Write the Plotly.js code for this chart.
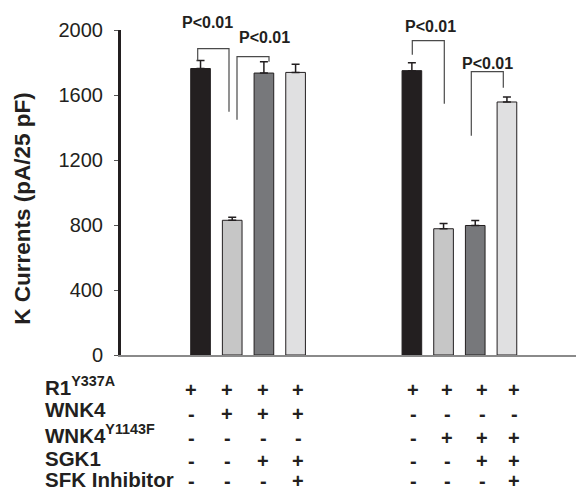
<!DOCTYPE html>
<html>
<head>
<meta charset="utf-8">
<script src="https://cdn.plot.ly/plotly-3.0.1.min.js"></script>
<style>html,body{margin:0;padding:0;background:#fff;}#chart{width:576px;height:492px;}</style>
</head>
<body>
<div id="chart"></div>
<script>
// ---- data ----
var groups = ["R1Y337A + WNK4", "R1Y337A + WNK4Y1143F"];
var barColors = ["#231f20", "#c6c6c6", "#77787b", "#e0e0e1"];
var group1Values = [1763, 829, 1735, 1739];
var group1Errors = [50, 18, 70, 50];
var group2Values = [1750, 777, 797, 1557];
var group2Errors = [49, 33, 31, 31];
var yTicks = [0, 400, 800, 1200, 1600, 2000];
var rowLabels = ["R1<sup>Y337A</sup>", "WNK4", "WNK4<sup>Y1143F</sup>", "SGK1", "SFK Inhibitor"];
var group1Marks = [["+","+","+","+"],["-","+","+","+"],["-","-","-","-"],["-","-","+","+"],["-","-","-","+"]];
var group2Marks = [["+","+","+","+"],["-","-","-","-"],["-","+","+","+"],["-","-","+","+"],["-","-","-","+"]];
var pLabel = "P<0.01";

// ---- layout constants ----
var W = 576, H = 492;
var L = 121, T = 30.3, B = 355.3;
var xMin = -1.51, xMax = 12.85;
var groupOffset = [0, 6.67];
var pxPerUnit = (W - L) / (xMax - xMin);
function xPx(px){ return (px - L) / pxPerUnit + xMin; }
function yPx(py){ return (B - py) / (B - T) * 2000; }
function pyPaper(py){ return (B - py) / (B - T); }
function pxPaper(px){ return (px - L) / (W - L); }

var font = "Arial, 'Liberation Sans', Helvetica, sans-serif";
var ink = "#231f20";

var traces = [];
[group1Values, group2Values].forEach(function(vals, g){
  var errs = g === 0 ? group1Errors : group2Errors;
  for (var i = 0; i < vals.length; i++) {
    traces.push({
      type: "bar",
      x: [1 + groupOffset[g] + i],
      y: [vals[i]],
      width: 0.62,
      marker: {color: barColors[i], line: {color: ink, width: 1}},
      error_y: {type: "data", symmetric: false, array: [errs[i]], arrayminus: [0],
                color: ink, thickness: 1.5, width: 4},
      showlegend: false,
      hoverinfo: "y"
    });
  }
});

// brackets: [leftX px, rightX px, top py, left-bottom py, right-bottom py]
var brackets = [
  [197.7, 229, 49, 61, 112],
  [237, 269, 57, 120, 62],
  [412.3, 444.3, 41, 55, 104],
  [471.3, 503.3, 72, 136, 88]
];
var shapes = brackets.map(function(b){
  var xl = xPx(b[0]), xr = xPx(b[1]);
  return {type: "path", xref: "x", yref: "y",
    path: "M" + xl + "," + yPx(b[3]) + " L" + xl + "," + yPx(b[2]) +
          " L" + xr + "," + yPx(b[2]) + " L" + xr + "," + yPx(b[4]),
    line: {color: "#4a4a4a", width: 1.2}};
});

var annotations = [];
// P labels [center px, center py]
[[207, 23], [264, 37.5], [430, 26.5], [487, 63.5]].forEach(function(p){
  annotations.push({xref: "paper", yref: "paper", x: pxPaper(p[0]), y: pyPaper(p[1]),
    xanchor: "center", yanchor: "middle", showarrow: false, text: pLabel.replace("<", "&lt;"),
    font: {family: font, size: 16, color: ink, weight: "bold"}});
});
// y title
annotations.push({xref: "paper", yref: "paper", x: pxPaper(23), y: pyPaper(209),
  xanchor: "center", yanchor: "middle", showarrow: false, textangle: -90,
  text: "<b>K Currents (pA/25 pF)</b>", font: {family: font, size: 22.5, color: ink}});
// table rows
var rowPy = [390, 414, 438, 461, 481];
var labelPy = [386, 410, 434, 459, 480];
var g1Cols = [191, 227, 263, 298];
var g2Cols = [413, 447, 482, 514];
rowLabels.forEach(function(lab, r){
  annotations.push({xref: "paper", yref: "paper", x: pxPaper(43), y: pyPaper(labelPy[r]),
    xanchor: "left", yanchor: "middle", showarrow: false, text: "<b>" + lab + "</b>",
    font: {family: font, size: 20.5, color: ink}});
  [group1Marks, group2Marks].forEach(function(marks, g){
    var cols = g === 0 ? g1Cols : g2Cols;
    marks[r].forEach(function(m, c){
      annotations.push({xref: "paper", yref: "paper", x: pxPaper(cols[c]), y: pyPaper(rowPy[r]),
        xanchor: "center", yanchor: "middle", showarrow: false, text: "<b>" + m + "</b>",
        font: {family: font, size: 20, color: ink}});
    });
  });
});

var layout = {
  width: W, height: H,
  margin: {l: L, r: 0, t: T, b: H - B, pad: 0},
  paper_bgcolor: "#fff", plot_bgcolor: "#fff",
  showlegend: false,
  xaxis: {range: [xMin, xMax], showgrid: false, zeroline: false, showticklabels: false,
          ticks: "", showline: true, linecolor: "#8a8a8a", linewidth: 1.5, fixedrange: true},
  yaxis: {range: [0, 2000], tickvals: yTicks, ticktext: yTicks.map(String),
          showgrid: false, zeroline: false, showline: true, linecolor: ink, linewidth: 3,
          ticks: "outside", ticklen: 4, tickcolor: "#555", tickwidth: 1,
          tickfont: {family: font, size: 20, color: ink}, ticklabelstandoff: 7, fixedrange: true},
  shapes: shapes,
  annotations: annotations,
  bargap: 0
};
Plotly.newPlot("chart", traces, layout, {displayModeBar: false, staticPlot: true});
</script>
</body>
</html>
